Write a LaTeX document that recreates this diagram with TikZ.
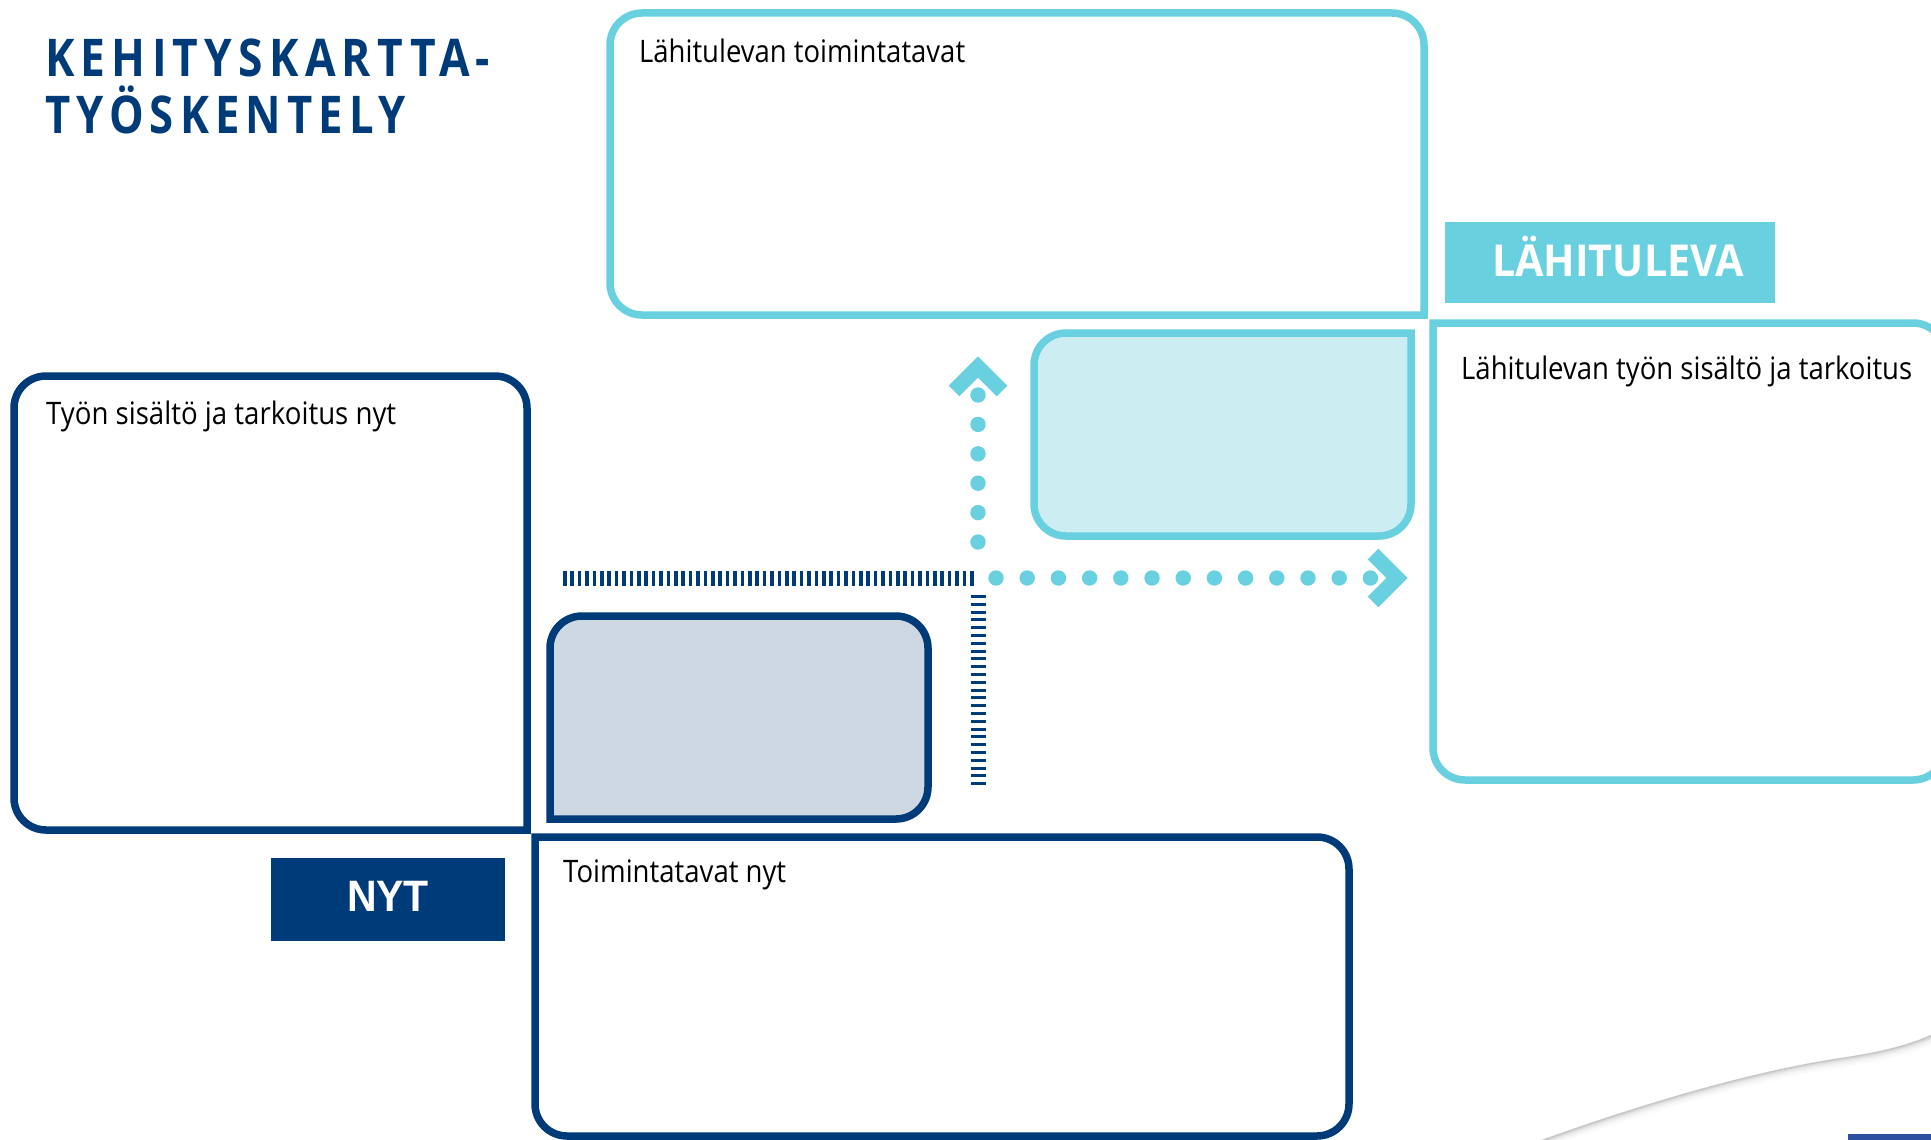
\documentclass[tikz,border=0pt]{standalone}
\usepackage{fontspec}
\setmainfont{Open Sans}
\newfontfamily\titlefont{Open Sans}[FakeStretch=0.85,LetterSpace=12]
\newfontfamily\arialfont{Liberation Sans}
\definecolor{dblue}{HTML}{003B79}
\definecolor{cyanc}{HTML}{68D0DF}
\definecolor{lcyan}{HTML}{CCEEF3}
\definecolor{lgray}{HTML}{CDD8E3}
\definecolor{sblue}{HTML}{2E50A0}
\newcommand\fitw[2]{\resizebox{#1pt}{\height}{#2}}
\begin{document}
\begin{tikzpicture}[x=1pt,y=-1pt,
  boxline/.style={line width=7.5pt, rounded corners=32pt, line cap=rect, line join=miter},
  bodytxt/.style={anchor=base west, inner sep=0pt, text=black, font=\fontsize{31}{31}\selectfont},
  titletxt/.style={anchor=base west, inner sep=0pt, text=dblue, font=\titlefont\bfseries\fontsize{52}{52}\selectfont},
  labeltxt/.style={anchor=base, inner sep=0pt, text=white},
  dot/.style={fill=cyanc},
  chevron/.style={draw=cyanc, line width=15pt, line join=miter, line cap=butt},
  ticks/.style={draw=dblue, line width=15pt}
]
\clip (0,0) rectangle (1931,1140);
\fill[white] (0,0) rectangle (1931,1140);

% title
\node[titletxt] (title1) at (45,76) {\fitw{445}{KEHITYSKARTTA-}};
\node[titletxt] (title2) at (45,133) {\fitw{361}{TYÖSKENTELY}};

% outer boxes
\draw[boxline, cyanc] (1424,315) -- (1424,13) -- (610,13) -- (610,315) -- (1424,315);
\draw[boxline, cyanc] (1433,323) -- (1945,323) -- (1945,780) -- (1433,780) -- (1433,323);
\draw[boxline, dblue] (527,830) -- (527,376) -- (14,376) -- (14,830) -- (527,830);
\draw[boxline, dblue] (535,837) -- (1349,837) -- (1349,1136) -- (535,1136) -- (535,837);

% inner filled boxes
\draw[boxline, cyanc, fill=lcyan] (1411,333) -- (1411,536) -- (1034,536) -- (1034,333) -- (1411,333);
\draw[boxline, dblue, fill=lgray] (550,819) -- (550,616) -- (928,616) -- (928,819) -- (550,819);

% box texts
\node[bodytxt] (txtTop) at (639,63) {\fitw{326}{Lähitulevan toimintatavat}};
\node[bodytxt] (txtRight) at (1461,379) {\fitw{451}{Lähitulevan työn sisältö ja tarkoitus}};
\node[bodytxt] (txtLeft) at (46,424) {\fitw{350}{Työn sisältö ja tarkoitus nyt}};
\node[bodytxt] (txtBottom) at (563,882) {\fitw{223}{Toimintatavat nyt}};

% labels
\fill[cyanc] (1445,222) rectangle (1775,303);
\node[labeltxt, font=\bfseries\fontsize{44}{44}\selectfont] (lahituleva) at (1618,276) {\fitw{252}{LÄHITULEVA}};
\fill[dblue] (271,858) rectangle (505,941);
\node[labeltxt, font=\arialfont\bfseries\fontsize{44}{44}\selectfont] (nyt) at (388,911) {\fitw{82}{NYT}};

% dark tick lines
\draw[ticks, dash pattern=on 3.5pt off 3.9pt] (563,578) -- (977,578);
\draw[ticks, dash pattern=on 3pt off 4.8pt] (978,595) -- (978,785);

% cyan dotted arrows
\foreach \i in {0,...,5} \fill[dot] (978,{395+29.4*\i}) circle[radius=7.7];
\foreach \i in {0,...,12} \fill[dot] ({996+31.2*\i},578) circle[radius=7.7];
\draw[chevron] (954,391) -- (978,367) -- (1002,391);
\draw[chevron] (1373,554) -- (1397,578) -- (1373,602);

% page curl shadow bottom right
\foreach \d/\o in {0.5/0.2,1.5/0.15,2.5/0.11,3.5/0.08,4.5/0.06,5.5/0.045,6.5/0.033,7.5/0.023,8.5/0.014,9.5/0.007}
  \draw[black, opacity=\o, line width=1.1pt] (1525,{1146+\d}) .. controls (1650,{1100+\d}) and (1760,{1070+\d}) .. (1840,{1058+\d}) .. controls (1880,{1052+\d}) and (1910,{1045+\d}) .. (1935,{1033+\d});
\fill[sblue] (1848,1134) rectangle (1931,1140);
\end{tikzpicture}
\end{document}
